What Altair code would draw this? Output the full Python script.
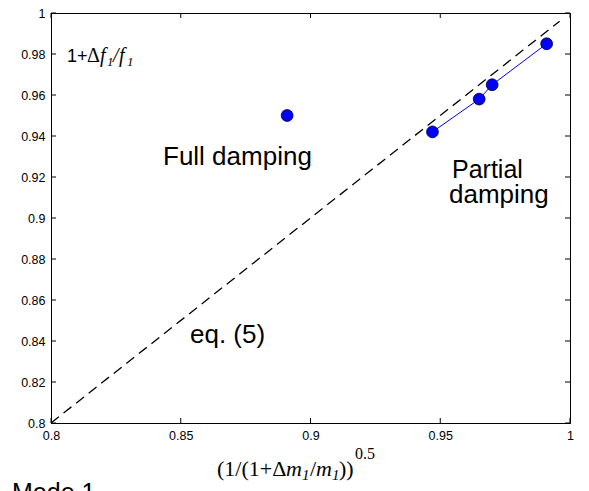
import altair as alt
import pandas as pd

# ---- data ----
x_ratio = [0.891, 0.947, 0.965, 0.970, 0.991]
f_ratio = [0.950, 0.942, 0.958, 0.965, 0.985]
damping = ["Full", "Partial", "Partial", "Partial", "Partial"]
eq_x = [0.8, 0.996]
x_ticks = [0.8, 0.85, 0.9, 0.95, 1.0]
y_ticks = [0.8, 0.82, 0.84, 0.86, 0.88, 0.9, 0.92, 0.94, 0.96, 0.98, 1.0]

W, H = 519, 410
SANS = "Liberation Sans"
SERIF = "Liberation Serif"

pts = pd.DataFrame({"x": x_ratio, "y": f_ratio, "damping": damping})
eq = pd.DataFrame({"x": eq_x, "y": eq_x})
xt = pd.DataFrame({"x": x_ticks})
yt = pd.DataFrame({"y": y_ticks})

xs = alt.Scale(domain=[0.8, 1.0], nice=False, zero=False)
ys = alt.Scale(domain=[0.8, 1.0], nice=False, zero=False)
xax = alt.Axis(values=x_ticks, format="~g", ticks=False, grid=False, title=None,
               labelFont=SANS, labelFontSize=12.5, labelColor="black", labelPadding=6,
               labelFlush=False, labelOverlap=False, domainColor="black", domainWidth=1)
yax = alt.Axis(values=y_ticks, format="~g", ticks=False, grid=False, title=None,
               labelFont=SANS, labelFontSize=12.5, labelColor="black", labelPadding=6,
               labelFlush=False, labelOverlap=False, domainColor="black", domainWidth=1)

X = alt.X("x:Q", scale=xs, axis=xax)
Y = alt.Y("y:Q", scale=ys, axis=yax)

eq_line = alt.Chart(eq).mark_line(color="black", strokeDash=[10, 6], strokeWidth=1.3).encode(x=X, y=Y)
fit_line = alt.Chart(pts).transform_filter(alt.datum.damping == "Partial").mark_line(
    color="#0000ff", strokeWidth=1).encode(x=X, y=Y)
dots = alt.Chart(pts).mark_circle(size=140, color="#0000ff", opacity=1,
                                  stroke="#000022", strokeWidth=0.8).encode(x=X, y=Y)

tick_b = alt.Chart(xt).mark_rule(color="black").encode(x=X, y=alt.value(H), y2=alt.value(H - 5))
tick_t = alt.Chart(xt).mark_rule(color="black").encode(x=X, y=alt.value(0), y2=alt.value(5))
tick_l = alt.Chart(yt).mark_rule(color="black").encode(y=Y, x=alt.value(0), x2=alt.value(5))
tick_r = alt.Chart(yt).mark_rule(color="black").encode(y=Y, x=alt.value(W), x2=alt.value(W - 5))


def txt(s, x, y, size, font=SANS, style="normal"):
    return alt.Chart(pd.DataFrame({"t": [s]})).mark_text(
        align="left", baseline="alphabetic", font=font, fontSize=size,
        fontStyle=style, color="black").encode(
        x=alt.value(x), y=alt.value(y), text="t:N")


labels = [
    txt("Full damping", 112, 152, 26),
    txt("Partial", 401, 165, 25),
    txt("damping", 398, 190, 26),
    txt("eq. (5)", 139, 330, 26),
    txt("Mode 1", -39, 488, 25),
    # y label 1+Δf1/f1
    txt("1+", 16, 49, 18),
    txt("Δ", 36, 49, 20, SERIF),
    txt("f", 49, 49, 20, SERIF, "italic"),
    txt("1", 56, 53, 13, SERIF, "italic"),
    txt("/", 62, 49, 20, SERIF, "italic"),
    txt("f", 68, 49, 20, SERIF, "italic"),
    txt("1", 76, 53, 13, SERIF, "italic"),
    # x title (1/(1+Δm1/m1))^0.5
    txt("(1/(1+Δ", 166, 463, 22, SERIF),
    txt("m", 235, 463, 22, SERIF, "italic"),
    txt("1", 251, 467, 15, SERIF, "italic"),
    txt("/", 259, 463, 22, SERIF),
    txt("m", 265, 463, 22, SERIF, "italic"),
    txt("1", 281, 467, 15, SERIF, "italic"),
    txt("))", 288, 463, 22, SERIF),
    txt("0.5", 304, 446, 16, SERIF),
]

chart = alt.layer(eq_line, fit_line, dots, tick_b, tick_t, tick_l, tick_r, *labels).properties(
    width=W, height=H,
    padding={"left": 43, "top": 5, "right": 11, "bottom": 68},
    autosize=alt.AutoSizeParams(type="none"),
    background="white",
).configure_view(stroke="black", strokeWidth=1)

chart.save("out.html", embed_options={"renderer": "svg", "actions": False})
